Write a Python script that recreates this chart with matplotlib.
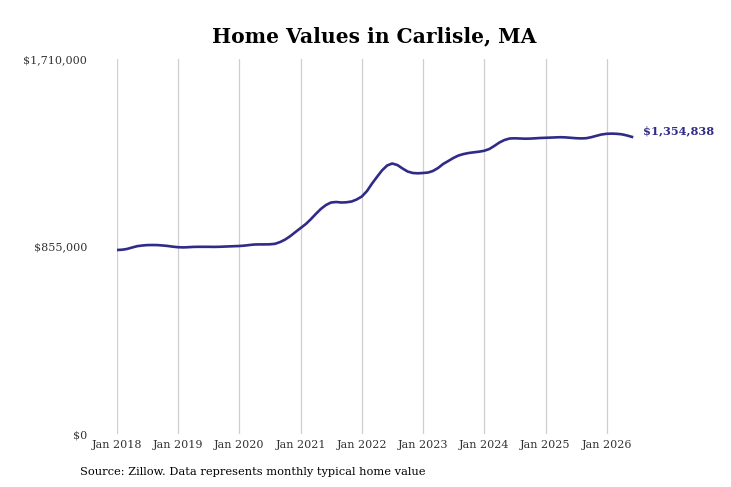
import matplotlib
matplotlib.use("Agg")
import matplotlib.pyplot as plt
import matplotlib.dates as mdates
from matplotlib.ticker import FuncFormatter
import pandas as pd

# Monthly typical home value (thousands of dollars), Jan 2018 - Jun 2026
dates = pd.date_range("2018-01-01", periods=102, freq="MS")
values_k = [
    839.0, 840.4, 843.6, 850.4, 856.4, 859.6, 861.4, 861.8, 861.4, 859.6, 857.3, 854.1,
    851.8, 850.9, 851.8, 853.2, 853.6, 853.6, 853.6, 853.2, 853.6, 854.5, 855.5, 856.4,
    857.3, 859.1, 861.8, 864.1, 864.6, 864.6, 865.0, 867.3, 875.5, 886.9, 902.9, 921.1,
    939.4, 957.6, 978.1, 1003.2, 1026.0, 1044.2, 1055.6, 1057.9, 1055.6, 1056.6, 1060.2, 1069.3,
    1083.0, 1108.1, 1140.0, 1171.9, 1201.6, 1224.4, 1233.5, 1226.6, 1210.7, 1197.0, 1190.2, 1188.8,
    1190.2, 1192.4, 1199.3, 1213.0, 1231.2, 1244.9, 1258.6, 1270.0, 1276.8, 1281.4, 1284.6, 1287.3,
    1291.4, 1299.6, 1313.3, 1329.2, 1340.6, 1347.5, 1348.4, 1347.5, 1346.6, 1347.0, 1348.4, 1349.8,
    1350.7, 1351.6, 1352.5, 1353.4, 1352.5, 1350.7, 1348.8, 1347.9, 1348.8, 1353.4, 1359.8, 1365.7,
    1368.9, 1369.8, 1368.9, 1366.6, 1361.5, 1354.838,
]
values = [v * 1000 for v in values_k]
y_ticks = [0, 855000, 1710000]
x_ticks = pd.date_range("2018-01-01", "2026-01-01", freq="YS")
last_label = "$1,354,838"

font = "DejaVu Serif"
line_color = "#2f2b87"

fig = plt.figure(figsize=(7.31, 4.87), dpi=100)
ax = fig.add_axes([117 / 731, 53 / 487, 520 / 731, 375 / 487])

ax.plot(dates, values, color=line_color, linewidth=1.9)

ax.set_xlim(pd.Timestamp("2018-01-01"), pd.Timestamp("2026-07-01"))
ax.set_ylim(0, 1710000)
ax.set_xticks(x_ticks)
ax.xaxis.set_major_formatter(mdates.DateFormatter("Jan %Y"))
ax.set_yticks(y_ticks)
ax.yaxis.set_major_formatter(FuncFormatter(lambda v, p: f"${v:,.0f}"))

ax.grid(axis="x", color="#cfcfcf", linewidth=0.9)
ax.grid(axis="y", visible=False)
for s in ax.spines.values():
    s.set_visible(False)
ax.tick_params(length=0, colors="#333333", labelsize=8)
ax.tick_params(axis="y", pad=21.5)
ax.tick_params(axis="x", pad=4)
for lab in ax.get_xticklabels() + ax.get_yticklabels():
    lab.set_fontfamily(font)

ax.annotate(last_label, (dates[-1], values[-1]), xytext=(11, 6), textcoords="offset pixels",
            color=line_color, fontsize=8.2, fontweight="bold", family=font,
            va="center", ha="left")

fig.text(374 / 731, 1 - 36 / 487, "Home Values in Carlisle, MA", ha="center", va="center",
         fontsize=14.6, fontweight="bold", family=font)
fig.text(80 / 731, 1 - 472 / 487, "Source: Zillow. Data represents monthly typical home value",
         ha="left", va="center", fontsize=8.2, family=font)

fig.savefig("out.png", dpi=100)
